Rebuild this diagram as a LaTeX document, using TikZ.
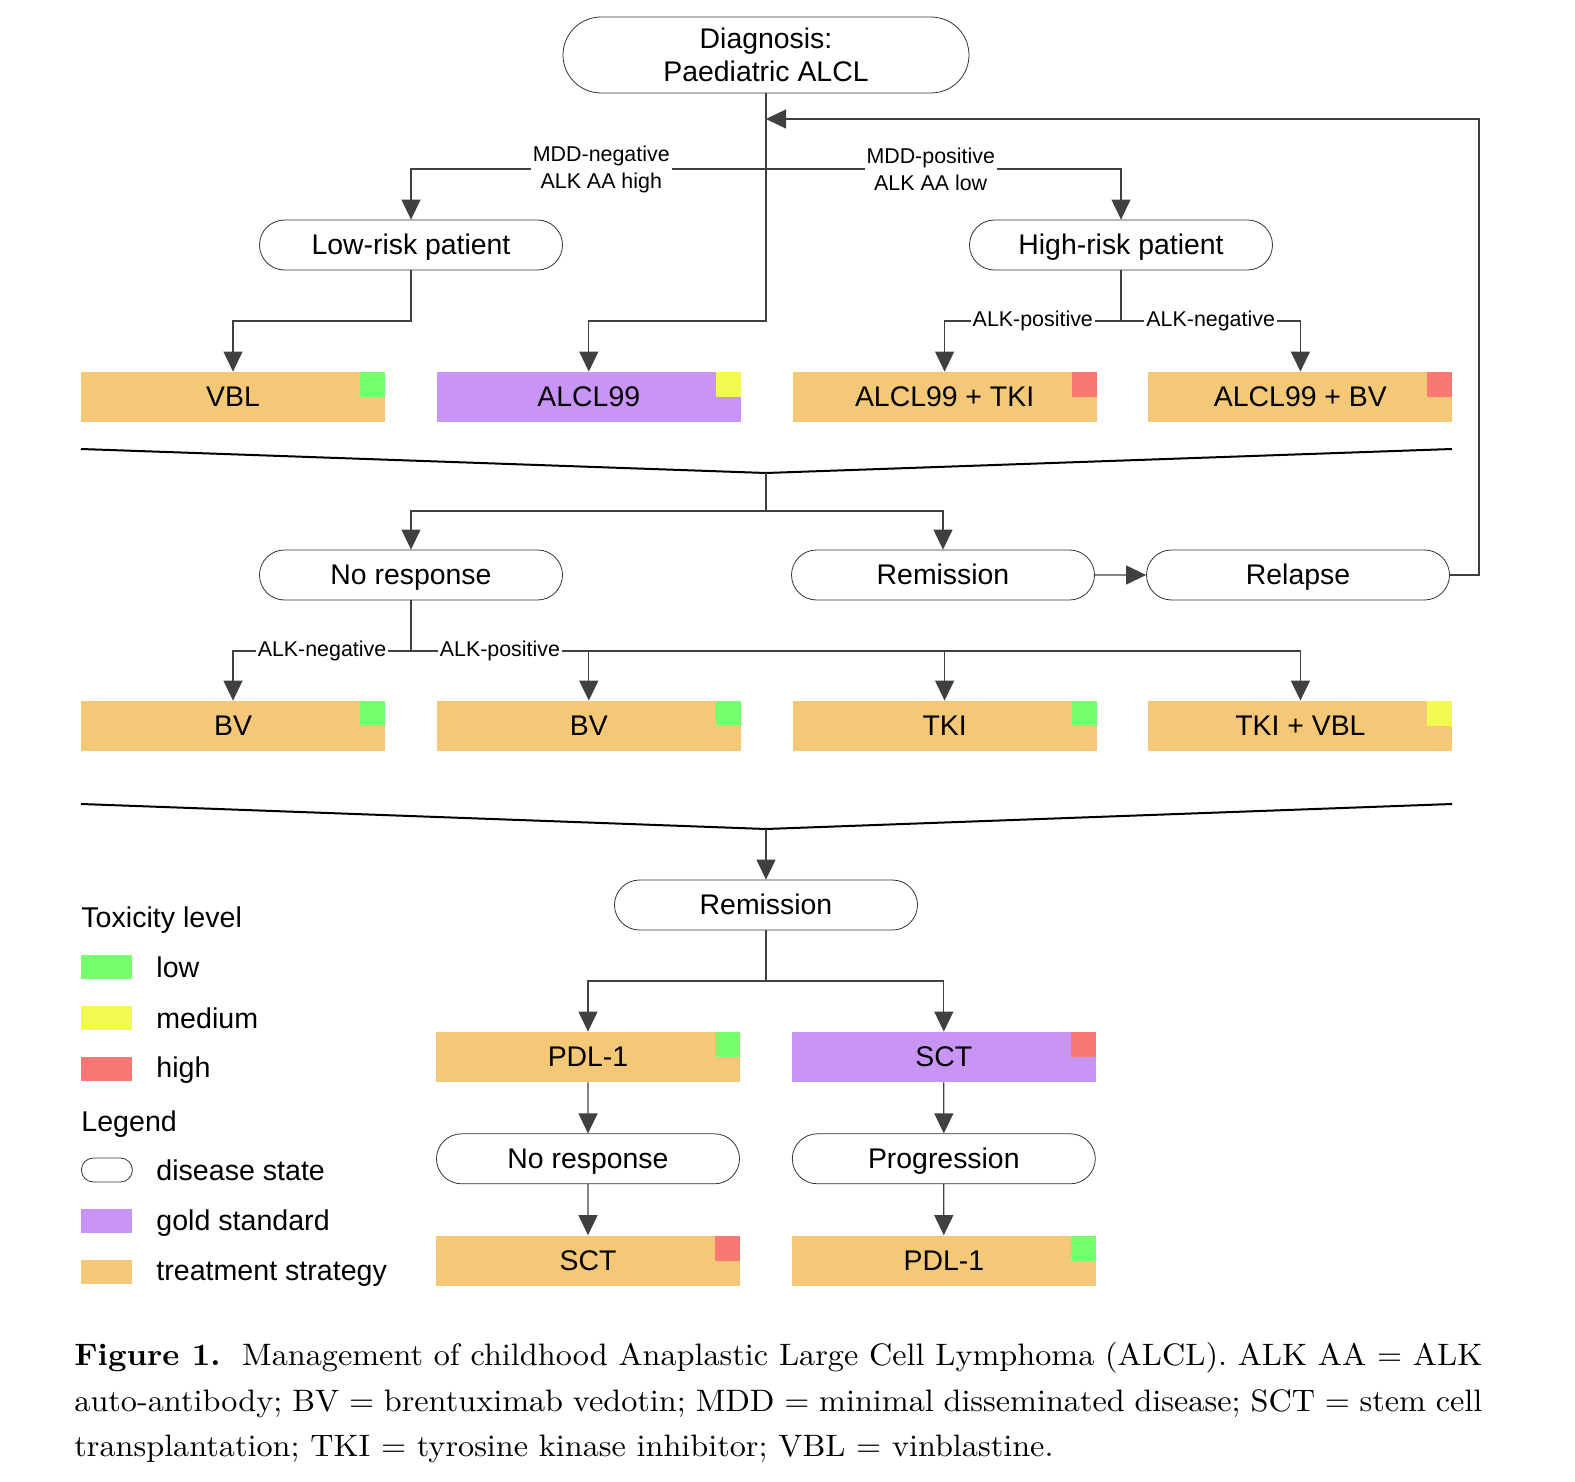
\documentclass[tikz,border=0pt]{standalone}
\usepackage{fontspec}
\setsansfont{Liberation Sans}
\newfontfamily\capfont{lmroman10-regular}[Extension=.otf, BoldFont=lmroman10-bold, FakeStretch=1.04]
\usepackage{xcolor}
\usepackage{tikz}
\usetikzlibrary{arrows.meta,positioning,shapes.misc}

\definecolor{treatcol}{RGB}{245,200,120}
\definecolor{goldcol}{RGB}{200,148,245}
\definecolor{toxlow}{RGB}{120,255,110}
\definecolor{toxmed}{RGB}{240,250,80}
\definecolor{toxhigh}{RGB}{250,120,115}

\begin{document}
\begin{tikzpicture}[x=0.5pt, y=-0.5pt,
  statebox/.style={draw=black!80, rounded rectangle, minimum width=151.5pt,
                minimum height=25pt, inner sep=0pt, fill=white,
                font=\sffamily\fontsize{14.2}{16.5}\selectfont},
  state/.style={statebox, text height=9.8pt, text depth=0pt},
  treat/.style={fill=treatcol, minimum width=152pt, minimum height=25pt,
                inner sep=0pt, text height=9.8pt, text depth=0pt,
                font=\sffamily\fontsize{14.2}{16.5}\selectfont},
  gold/.style={treat, fill=goldcol},
  tox/.style={minimum size=12.5pt, inner sep=0pt, anchor=north east},
  arr/.style={-{Triangle[length=10pt,width=9.5pt]}, black!75, line width=0.6pt},
  ln/.style={black!75, line width=0.6pt},
  lbl/.style={fill=white, text=black, inner sep=1pt, font=\sffamily\fontsize{10.7}{13.5}\selectfont},
  funnel/.style={black, line width=1pt},
  swatch/.style={minimum width=25.5pt, minimum height=12pt, inner sep=0pt, anchor=west},
  legtext/.style={anchor=west, inner sep=0pt, font=\sffamily\fontsize{14.3}{16.5}\selectfont}
]
  \useasboundingbox (0,0) rectangle (1575,1482);
  % Diagnosis and risk groups
  \node[statebox, minimum width=203pt, minimum height=38pt, align=center] (diag) at (766,55) {Diagnosis:\\Paediatric ALCL};
  \node[state] (low) at (411,245) {Low-risk patient};
  \node[state] (high) at (1121,245) {High-risk patient};
  % First-line treatment
  \node[treat] (vbl) at (233,397) {VBL};
  \node[gold, right=25.5pt of vbl] (alcl) {ALCL99};
  \node[treat, right=25.5pt of alcl] (alcltki) {ALCL99 + TKI};
  \node[treat, right=25.5pt of alcltki] (alclbv) {ALCL99 + BV};
  \node[tox, fill=toxlow] at (vbl.north east) {};
  \node[tox, fill=toxmed] at (alcl.north east) {};
  \node[tox, fill=toxhigh] at (alcltki.north east) {};
  \node[tox, fill=toxhigh] at (alclbv.north east) {};
  % Response
  \node[state] (nores) at (411,575) {No response};
  \node[state] (rem) at (943,575) {Remission};
  \node[state] (relapse) at (1298,575) {Relapse};
  % Second-line treatment
  \node[treat] (bva) at (233,726) {BV};
  \node[treat, right=25.5pt of bva] (bvb) {BV};
  \node[treat, right=25.5pt of bvb] (tki) {TKI};
  \node[treat, right=25.5pt of tki] (tkivbl) {TKI + VBL};
  \node[tox, fill=toxlow] at (bva.north east) {};
  \node[tox, fill=toxlow] at (bvb.north east) {};
  \node[tox, fill=toxlow] at (tki.north east) {};
  \node[tox, fill=toxmed] at (tkivbl.north east) {};
  % Consolidation
  \node[state] (remb) at (766,905) {Remission};
  \node[treat] (pdl) at (588,1057) {PDL-1};
  \node[gold, right=25.5pt of pdl] (sct) {SCT};
  \node[state, below=25.5pt of pdl] (noresb) {No response};
  \node[state, below=25.5pt of sct] (prog) {Progression};
  \node[treat, below=25.5pt of noresb] (sctb) {SCT};
  \node[treat, below=25.5pt of prog] (pdlb) {PDL-1};
  \node[tox, fill=toxlow] at (pdl.north east) {};
  \node[tox, fill=toxhigh] at (sct.north east) {};
  \node[tox, fill=toxhigh] at (sctb.north east) {};
  \node[tox, fill=toxlow] at (pdlb.north east) {};
  % Funnels
  \coordinate (fa) at (766,473);
  \coordinate (fb) at (766,829);
  \draw[funnel] (81,449) -- (fa) -- (1452,449);
  \draw[funnel] (81,804) -- (fb) -- (1452,804);
  % Flow
  \coordinate (ja) at (766,321);
  \coordinate (back) at (766,119);
  \draw[arr] (diag.south) -- (ja) -| (alcl.north);
  \draw[arr] (diag.south |- 0,169) -| node[lbl, pos=0.232, align=center] {MDD-negative\\ALK AA high} (low.north);
  \draw[arr] (diag.south |- 0,169) -| node[lbl, pos=0.232, align=center] {MDD-positive\\ALK AA low} (high.north);
  \draw[arr] (low.south) -- (low.south |- ja) -| (vbl.north);
  \draw[ln] (high.south) -- (high.south |- ja) coordinate (jb);
  \draw[arr] (jb) -| node[lbl, pos=0.25] {ALK-positive} (alcltki.north);
  \draw[arr] (jb) -| node[lbl, pos=0.25] {ALK-negative} (alclbv.north);
  \draw[ln] (fa) -- (766,511) coordinate (jc);
  \draw[arr] (jc) -| (nores.north);
  \draw[arr] (jc) -| (rem.north);
  \draw[arr] (rem) -- (relapse);
  \draw[arr] (relapse.east) -- (1479,575) |- (back);
  \draw[ln] (nores.south) -- (nores.south |- 0,651) coordinate (jd);
  \draw[arr] (jd) -| (tkivbl.north);
  \draw[arr] (jd) -| (tki.north);
  \draw[arr] (jd) -| node[lbl, pos=0.25] {ALK-negative} (bva.north);
  \draw[arr] (jd) -| node[lbl, pos=0.25] {ALK-positive} (bvb.north);
  \draw[arr] (fb) -- (remb.north);
  \draw[ln] (remb.south) -- (remb.south |- 0,981) coordinate (je);
  \draw[arr] (je) -| (pdl.north);
  \draw[arr] (je) -| (sct.north);
  \draw[arr] (pdl) -- (noresb);
  \draw[arr] (sct) -- (prog);
  \draw[arr] (noresb) -- (sctb);
  \draw[arr] (prog) -- (pdlb);
  % Legend
  \node[legtext] (toxhead) at (81,920) {Toxicity level};
  \node[swatch, fill=toxlow] (swlow) at (81,967) {};
  \node[swatch, fill=toxmed] (swmed) at (81,1018) {};
  \node[swatch, fill=toxhigh] (swhigh) at (81,1069) {};
  \node[legtext] at (156,967) {low};
  \node[legtext] at (156,1018) {medium};
  \node[legtext] at (156,1070) {high};
  \node[legtext] (leghead) at (81,1124) {Legend};
  \node[swatch, draw=black!80, rounded rectangle] (swstate) at (81,1170) {};
  \node[swatch, fill=goldcol] (swgold) at (81,1221) {};
  \node[swatch, fill=treatcol] (swtreat) at (81,1272) {};
  \node[legtext] at (156,1170) {disease state};
  \node[legtext] at (156,1223) {gold standard};
  \node[legtext] at (156,1274) {treatment strategy};
  % Caption
  \node[anchor=north west, text width=704pt, align=justify, inner sep=0pt,
        font=\capfont\fontsize{15.5}{22.75}\selectfont] (caption) at (74,1342)
    {\textbf{Figure 1.}\ \ Management of childhood Anaplastic Large Cell Lymphoma (ALCL). ALK AA = ALK\linebreak
     auto-antibody; BV = brentuximab vedotin; MDD = minimal disseminated disease; SCT = stem cell\linebreak
     transplantation; TKI = tyrosine kinase inhibitor; VBL = vinblastine.};
\end{tikzpicture}
\end{document}
